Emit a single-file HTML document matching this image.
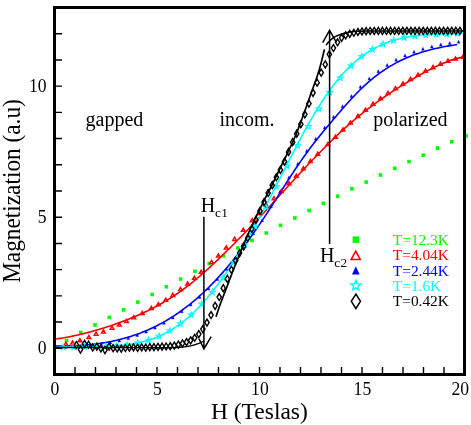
<!DOCTYPE html>
<html><head><meta charset="utf-8"><title>Magnetization</title><style>
html,body{margin:0;padding:0;background:#fff;}
#c{position:relative;will-change:transform;width:471px;height:425px;overflow:hidden;background:#fff;font-family:"Liberation Serif",serif;color:#000;}
.t{position:absolute;white-space:nowrap;line-height:1;}
</style></head><body><div id="c">
<svg width="471" height="425" viewBox="0 0 471 425" style="position:absolute;left:0;top:0">
<defs><clipPath id="cp"><rect x="53" y="6" width="415" height="370"/></clipPath></defs>
<g clip-path="url(#cp)">
<rect x="64.7" y="338.7" width="3.6" height="3.6" fill="#00ff00"/>
<rect x="78.97" y="330.7" width="3.6" height="3.6" fill="#00ff00"/>
<rect x="93.24" y="323.1" width="3.6" height="3.6" fill="#00ff00"/>
<rect x="107.51" y="315.6" width="3.6" height="3.6" fill="#00ff00"/>
<rect x="121.78" y="308.1" width="3.6" height="3.6" fill="#00ff00"/>
<rect x="136.05" y="300.3" width="3.6" height="3.6" fill="#00ff00"/>
<rect x="150.32" y="292.6" width="3.6" height="3.6" fill="#00ff00"/>
<rect x="164.59" y="285" width="3.6" height="3.6" fill="#00ff00"/>
<rect x="178.86" y="277.2" width="3.6" height="3.6" fill="#00ff00"/>
<rect x="193.13" y="269.5" width="3.6" height="3.6" fill="#00ff00"/>
<rect x="207.4" y="261.7" width="3.6" height="3.6" fill="#00ff00"/>
<rect x="221.67" y="254" width="3.6" height="3.6" fill="#00ff00"/>
<rect x="235.94" y="246.2" width="3.6" height="3.6" fill="#00ff00"/>
<rect x="250.21" y="238.7" width="3.6" height="3.6" fill="#00ff00"/>
<rect x="264.48" y="231.2" width="3.6" height="3.6" fill="#00ff00"/>
<rect x="278.75" y="223.5" width="3.6" height="3.6" fill="#00ff00"/>
<rect x="293.02" y="216.2" width="3.6" height="3.6" fill="#00ff00"/>
<rect x="307.29" y="208.7" width="3.6" height="3.6" fill="#00ff00"/>
<rect x="321.56" y="201.5" width="3.6" height="3.6" fill="#00ff00"/>
<rect x="335.83" y="194.4" width="3.6" height="3.6" fill="#00ff00"/>
<rect x="350.1" y="187" width="3.6" height="3.6" fill="#00ff00"/>
<rect x="364.37" y="180.3" width="3.6" height="3.6" fill="#00ff00"/>
<rect x="378.64" y="173.2" width="3.6" height="3.6" fill="#00ff00"/>
<rect x="392.91" y="166.5" width="3.6" height="3.6" fill="#00ff00"/>
<rect x="407.18" y="159.8" width="3.6" height="3.6" fill="#00ff00"/>
<rect x="421.45" y="153.4" width="3.6" height="3.6" fill="#00ff00"/>
<rect x="435.72" y="146.3" width="3.6" height="3.6" fill="#00ff00"/>
<rect x="449.99" y="139.9" width="3.6" height="3.6" fill="#00ff00"/>
<rect x="464.26" y="134.1" width="3.6" height="3.6" fill="#00ff00"/>
<path d="M54.5 339.19 L55.87 339 L57.24 338.8 L58.61 338.6 L59.98 338.39 L61.36 338.17 L62.73 337.94 L64.1 337.71 L65.47 337.47 L66.84 337.22 L68.21 336.96 L69.58 336.7 L70.95 336.43 L72.33 336.15 L73.7 335.86 L75.07 335.57 L76.44 335.27 L77.81 334.97 L79.18 334.66 L80.55 334.34 L81.92 334.01 L83.3 333.68 L84.67 333.34 L86.04 332.99 L87.41 332.64 L88.78 332.28 L90.15 331.91 L91.52 331.54 L92.89 331.16 L94.27 330.78 L95.64 330.39 L97.01 329.99 L98.38 329.59 L99.75 329.18 L101.12 328.76 L102.49 328.34 L103.86 327.91 L105.24 327.47 L106.61 327.03 L107.98 326.59 L109.35 326.14 L110.72 325.68 L112.09 325.21 L113.46 324.74 L114.83 324.27 L116.21 323.79 L117.58 323.3 L118.95 322.81 L120.32 322.31 L121.69 321.81 L123.06 321.3 L124.43 320.78 L125.8 320.25 L127.18 319.72 L128.55 319.18 L129.92 318.63 L131.29 318.08 L132.66 317.52 L134.03 316.95 L135.4 316.37 L136.77 315.78 L138.15 315.19 L139.52 314.58 L140.89 313.97 L142.26 313.34 L143.63 312.71 L145 312.07 L146.37 311.41 L147.74 310.75 L149.12 310.08 L150.49 309.39 L151.86 308.7 L153.23 307.99 L154.6 307.27 L155.97 306.55 L157.34 305.81 L158.71 305.05 L160.09 304.29 L161.46 303.51 L162.83 302.72 L164.2 301.92 L165.57 301.11 L166.94 300.28 L168.31 299.44 L169.68 298.59 L171.06 297.72 L172.43 296.84 L173.8 295.94 L175.17 295.03 L176.54 294.11 L177.91 293.17 L179.28 292.21 L180.65 291.24 L182.03 290.26 L183.4 289.26 L184.77 288.24 L186.14 287.21 L187.51 286.16 L188.88 285.1 L190.25 284.02 L191.62 282.93 L192.99 281.82 L194.37 280.7 L195.74 279.57 L197.11 278.42 L198.48 277.26 L199.85 276.09 L201.22 274.9 L202.59 273.71 L203.96 272.5 L205.34 271.28 L206.71 270.05 L208.08 268.81 L209.45 267.56 L210.82 266.3 L212.19 265.03 L213.56 263.75 L214.93 262.46 L216.31 261.16 L217.68 259.86 L219.05 258.55 L220.42 257.23 L221.79 255.9 L223.16 254.57 L224.53 253.23 L225.9 251.89 L227.28 250.54 L228.65 249.18 L230.02 247.82 L231.39 246.45 L232.76 245.08 L234.13 243.71 L235.5 242.33 L236.87 240.95 L238.25 239.56 L239.62 238.17 L240.99 236.77 L242.36 235.37 L243.73 233.97 L245.1 232.56 L246.47 231.14 L247.84 229.73 L249.22 228.3 L250.59 226.87 L251.96 225.44 L253.33 224 L254.7 222.55 L256.07 221.11 L257.44 219.65 L258.81 218.19 L260.19 216.72 L261.56 215.25 L262.93 213.78 L264.3 212.29 L265.67 210.81 L267.04 209.31 L268.41 207.82 L269.78 206.32 L271.16 204.82 L272.53 203.31 L273.9 201.8 L275.27 200.29 L276.64 198.78 L278.01 197.27 L279.38 195.76 L280.75 194.25 L282.13 192.74 L283.5 191.24 L284.87 189.73 L286.24 188.22 L287.61 186.72 L288.98 185.22 L290.35 183.72 L291.72 182.22 L293.1 180.73 L294.47 179.24 L295.84 177.75 L297.21 176.26 L298.58 174.78 L299.95 173.3 L301.32 171.83 L302.69 170.35 L304.07 168.89 L305.44 167.43 L306.81 165.97 L308.18 164.52 L309.55 163.07 L310.92 161.63 L312.29 160.19 L313.66 158.76 L315.04 157.33 L316.41 155.91 L317.78 154.5 L319.15 153.09 L320.52 151.69 L321.89 150.3 L323.26 148.92 L324.63 147.54 L326.01 146.17 L327.38 144.8 L328.75 143.45 L330.12 142.1 L331.49 140.76 L332.86 139.43 L334.23 138.11 L335.6 136.8 L336.97 135.49 L338.35 134.2 L339.72 132.92 L341.09 131.64 L342.46 130.38 L343.83 129.12 L345.2 127.88 L346.57 126.65 L347.94 125.42 L349.32 124.21 L350.69 123.01 L352.06 121.82 L353.43 120.65 L354.8 119.48 L356.17 118.33 L357.54 117.19 L358.91 116.06 L360.29 114.94 L361.66 113.83 L363.03 112.73 L364.4 111.64 L365.77 110.57 L367.14 109.5 L368.51 108.44 L369.88 107.4 L371.26 106.36 L372.63 105.34 L374 104.32 L375.37 103.31 L376.74 102.32 L378.11 101.33 L379.48 100.35 L380.85 99.38 L382.23 98.42 L383.6 97.47 L384.97 96.53 L386.34 95.59 L387.71 94.67 L389.08 93.75 L390.45 92.84 L391.82 91.94 L393.2 91.04 L394.57 90.16 L395.94 89.28 L397.31 88.4 L398.68 87.54 L400.05 86.68 L401.42 85.83 L402.79 84.99 L404.17 84.15 L405.54 83.32 L406.91 82.49 L408.28 81.68 L409.65 80.86 L411.02 80.06 L412.39 79.26 L413.76 78.46 L415.14 77.67 L416.51 76.89 L417.88 76.11 L419.25 75.34 L420.62 74.57 L421.99 73.8 L423.36 73.05 L424.73 72.3 L426.11 71.56 L427.48 70.83 L428.85 70.1 L430.22 69.39 L431.59 68.69 L432.96 68 L434.33 67.32 L435.7 66.65 L437.08 66 L438.45 65.36 L439.82 64.73 L441.19 64.12 L442.56 63.53 L443.93 62.95 L445.3 62.39 L446.67 61.85 L448.05 61.33 L449.42 60.82 L450.79 60.34 L452.16 59.87 L453.53 59.43 L454.9 59.01 L456.27 58.61 L457.64 58.23 L459.02 57.88 L460.39 57.55 L461.76 57.25 L463.13 56.98 L464.5 56.73" fill="none" stroke="#ff0000" stroke-width="1.6" />
<path d="M54.5 345.96 L55.85 345.98 L57.19 345.98 L58.54 345.99 L59.89 345.99 L61.23 345.98 L62.58 345.97 L63.93 345.96 L65.27 345.94 L66.62 345.92 L67.97 345.89 L69.32 345.85 L70.66 345.81 L72.01 345.77 L73.36 345.72 L74.7 345.66 L76.05 345.6 L77.4 345.53 L78.74 345.46 L80.09 345.38 L81.44 345.29 L82.78 345.19 L84.13 345.09 L85.48 344.99 L86.82 344.87 L88.17 344.75 L89.52 344.62 L90.86 344.48 L92.21 344.34 L93.56 344.19 L94.9 344.03 L96.25 343.86 L97.6 343.68 L98.95 343.5 L100.29 343.31 L101.64 343.1 L102.99 342.89 L104.33 342.67 L105.68 342.45 L107.03 342.21 L108.37 341.96 L109.72 341.71 L111.07 341.44 L112.41 341.17 L113.76 340.88 L115.11 340.58 L116.45 340.28 L117.8 339.96 L119.15 339.64 L120.49 339.3 L121.84 338.95 L123.19 338.6 L124.53 338.23 L125.88 337.85 L127.23 337.46 L128.58 337.05 L129.92 336.64 L131.27 336.21 L132.62 335.77 L133.96 335.32 L135.31 334.86 L136.66 334.39 L138 333.9 L139.35 333.4 L140.7 332.89 L142.04 332.37 L143.39 331.83 L144.74 331.28 L146.08 330.71 L147.43 330.14 L148.78 329.55 L150.12 328.94 L151.47 328.32 L152.82 327.69 L154.16 327.04 L155.51 326.38 L156.86 325.71 L158.21 325.02 L159.55 324.32 L160.9 323.6 L162.25 322.86 L163.59 322.12 L164.94 321.35 L166.29 320.57 L167.63 319.78 L168.98 318.97 L170.33 318.14 L171.67 317.3 L173.02 316.44 L174.37 315.57 L175.71 314.68 L177.06 313.77 L178.41 312.85 L179.75 311.91 L181.1 310.95 L182.45 309.98 L183.79 308.98 L185.14 307.98 L186.49 306.95 L187.84 305.91 L189.18 304.84 L190.53 303.76 L191.88 302.67 L193.22 301.55 L194.57 300.42 L195.92 299.27 L197.26 298.1 L198.61 296.91 L199.96 295.7 L201.3 294.47 L202.65 293.23 L204 291.96 L205.34 290.68 L206.69 289.38 L208.04 288.06 L209.38 286.72 L210.73 285.37 L212.08 284 L213.43 282.6 L214.77 281.19 L216.12 279.76 L217.47 278.32 L218.81 276.85 L220.16 275.37 L221.51 273.87 L222.85 272.35 L224.2 270.81 L225.55 269.26 L226.89 267.69 L228.24 266.1 L229.59 264.49 L230.93 262.86 L232.28 261.22 L233.63 259.56 L234.97 257.88 L236.32 256.18 L237.67 254.47 L239.01 252.74 L240.36 250.99 L241.71 249.22 L243.06 247.44 L244.4 245.64 L245.75 243.83 L247.1 242 L248.44 240.15 L249.79 238.29 L251.14 236.41 L252.48 234.52 L253.83 232.62 L255.18 230.7 L256.52 228.76 L257.87 226.81 L259.22 224.85 L260.56 222.87 L261.91 220.88 L263.26 218.88 L264.6 216.86 L265.95 214.84 L267.3 212.79 L268.64 210.74 L269.99 208.68 L271.34 206.6 L272.69 204.51 L274.03 202.41 L275.38 200.3 L276.73 198.18 L278.07 196.05 L279.42 193.91 L280.77 191.78 L282.11 189.64 L283.46 187.5 L284.81 185.38 L286.15 183.25 L287.5 181.14 L288.85 179.04 L290.19 176.96 L291.54 174.9 L292.89 172.85 L294.23 170.81 L295.58 168.8 L296.93 166.8 L298.27 164.82 L299.62 162.86 L300.97 160.91 L302.32 158.99 L303.66 157.08 L305.01 155.19 L306.36 153.33 L307.7 151.48 L309.05 149.65 L310.4 147.85 L311.74 146.06 L313.09 144.29 L314.44 142.55 L315.78 140.83 L317.13 139.13 L318.48 137.44 L319.82 135.77 L321.17 134.12 L322.52 132.48 L323.86 130.85 L325.21 129.23 L326.56 127.61 L327.91 126 L329.25 124.4 L330.6 122.79 L331.95 121.19 L333.29 119.59 L334.64 118 L335.99 116.41 L337.33 114.83 L338.68 113.25 L340.03 111.68 L341.37 110.12 L342.72 108.56 L344.07 107.02 L345.41 105.49 L346.76 103.98 L348.11 102.47 L349.45 100.98 L350.8 99.51 L352.15 98.05 L353.49 96.61 L354.84 95.19 L356.19 93.79 L357.54 92.4 L358.88 91.04 L360.23 89.7 L361.58 88.39 L362.92 87.1 L364.27 85.83 L365.62 84.59 L366.96 83.37 L368.31 82.18 L369.66 81.02 L371 79.88 L372.35 78.77 L373.7 77.68 L375.04 76.62 L376.39 75.58 L377.74 74.56 L379.08 73.57 L380.43 72.6 L381.78 71.65 L383.12 70.72 L384.47 69.82 L385.82 68.94 L387.17 68.08 L388.51 67.24 L389.86 66.42 L391.21 65.62 L392.55 64.84 L393.9 64.08 L395.25 63.34 L396.59 62.62 L397.94 61.92 L399.29 61.23 L400.63 60.57 L401.98 59.92 L403.33 59.29 L404.67 58.68 L406.02 58.08 L407.37 57.5 L408.71 56.93 L410.06 56.39 L411.41 55.85 L412.75 55.33 L414.1 54.83 L415.45 54.34 L416.8 53.87 L418.14 53.41 L419.49 52.96 L420.84 52.52 L422.18 52.1 L423.53 51.69 L424.88 51.3 L426.22 50.91 L427.57 50.54 L428.92 50.18 L430.26 49.82 L431.61 49.48 L432.96 49.15 L434.3 48.83 L435.65 48.52 L437 48.22 L438.34 47.92 L439.69 47.64 L441.04 47.36 L442.38 47.09 L443.73 46.83 L445.08 46.58 L446.43 46.33 L447.77 46.09 L449.12 45.86 L450.47 45.63 L451.81 45.41 L453.16 45.19 L454.51 44.98 L455.85 44.77 L457.2 44.57" fill="none" stroke="#0000ff" stroke-width="1.6" />
<path d="M54.5 347.95 L55.87 347.82 L57.24 347.7 L58.61 347.59 L59.98 347.48 L61.36 347.39 L62.73 347.3 L64.1 347.23 L65.47 347.16 L66.84 347.1 L68.21 347.04 L69.58 346.99 L70.95 346.95 L72.33 346.91 L73.7 346.88 L75.07 346.85 L76.44 346.83 L77.81 346.81 L79.18 346.79 L80.55 346.78 L81.92 346.77 L83.3 346.76 L84.67 346.75 L86.04 346.75 L87.41 346.74 L88.78 346.74 L90.15 346.73 L91.52 346.72 L92.89 346.72 L94.27 346.71 L95.64 346.7 L97.01 346.68 L98.38 346.66 L99.75 346.64 L101.12 346.62 L102.49 346.59 L103.86 346.56 L105.24 346.52 L106.61 346.48 L107.98 346.43 L109.35 346.37 L110.72 346.31 L112.09 346.24 L113.46 346.16 L114.83 346.08 L116.21 345.98 L117.58 345.88 L118.95 345.76 L120.32 345.64 L121.69 345.5 L123.06 345.36 L124.43 345.2 L125.8 345.03 L127.18 344.85 L128.55 344.66 L129.92 344.45 L131.29 344.23 L132.66 344 L134.03 343.75 L135.4 343.49 L136.77 343.21 L138.15 342.92 L139.52 342.61 L140.89 342.28 L142.26 341.93 L143.63 341.57 L145 341.19 L146.37 340.79 L147.74 340.38 L149.12 339.94 L150.49 339.48 L151.86 339.01 L153.23 338.51 L154.6 337.99 L155.97 337.45 L157.34 336.89 L158.71 336.3 L160.09 335.7 L161.46 335.07 L162.83 334.41 L164.2 333.73 L165.57 333.03 L166.94 332.3 L168.31 331.55 L169.68 330.77 L171.06 329.96 L172.43 329.13 L173.8 328.27 L175.17 327.38 L176.54 326.46 L177.91 325.52 L179.28 324.54 L180.65 323.54 L182.03 322.5 L183.4 321.44 L184.77 320.35 L186.14 319.22 L187.51 318.06 L188.88 316.87 L190.25 315.65 L191.62 314.39 L192.99 313.1 L194.37 311.78 L195.74 310.43 L197.11 309.04 L198.48 307.63 L199.85 306.18 L201.22 304.7 L202.59 303.19 L203.96 301.66 L205.34 300.09 L206.71 298.49 L208.08 296.86 L209.45 295.21 L210.82 293.52 L212.19 291.81 L213.56 290.07 L214.93 288.3 L216.31 286.5 L217.68 284.67 L219.05 282.82 L220.42 280.95 L221.79 279.04 L223.16 277.11 L224.53 275.16 L225.9 273.18 L227.28 271.17 L228.65 269.14 L230.02 267.08 L231.39 265.01 L232.76 262.9 L234.13 260.77 L235.5 258.62 L236.87 256.45 L238.25 254.26 L239.62 252.04 L240.99 249.8 L242.36 247.54 L243.73 245.25 L245.1 242.95 L246.47 240.62 L247.84 238.28 L249.22 235.91 L250.59 233.52 L251.96 231.12 L253.33 228.69 L254.7 226.25 L256.07 223.78 L257.44 221.3 L258.81 218.8 L260.19 216.28 L261.56 213.75 L262.93 211.2 L264.3 208.63 L265.67 206.04 L267.04 203.44 L268.41 200.82 L269.78 198.18 L271.16 195.54 L272.53 192.88 L273.9 190.21 L275.27 187.54 L276.64 184.85 L278.01 182.16 L279.38 179.47 L280.75 176.77 L282.13 174.07 L283.5 171.38 L284.87 168.68 L286.24 165.99 L287.61 163.3 L288.98 160.62 L290.35 157.94 L291.72 155.28 L293.1 152.62 L294.47 149.98 L295.84 147.35 L297.21 144.73 L298.58 142.13 L299.95 139.55 L301.32 136.99 L302.69 134.45 L304.07 131.93 L305.44 129.43 L306.81 126.96 L308.18 124.52 L309.55 122.1 L310.92 119.72 L312.29 117.36 L313.66 115.04 L315.04 112.75 L316.41 110.49 L317.78 108.26 L319.15 106.07 L320.52 103.9 L321.89 101.78 L323.26 99.69 L324.63 97.63 L326.01 95.61 L327.38 93.62 L328.75 91.68 L330.12 89.76 L331.49 87.89 L332.86 86.05 L334.23 84.26 L335.6 82.5 L336.97 80.78 L338.35 79.1 L339.72 77.46 L341.09 75.86 L342.46 74.31 L343.83 72.79 L345.2 71.31 L346.57 69.87 L347.94 68.48 L349.32 67.12 L350.69 65.79 L352.06 64.51 L353.43 63.26 L354.8 62.05 L356.17 60.87 L357.54 59.73 L358.91 58.62 L360.29 57.54 L361.66 56.5 L363.03 55.49 L364.4 54.52 L365.77 53.57 L367.14 52.66 L368.51 51.78 L369.88 50.93 L371.26 50.1 L372.63 49.31 L374 48.54 L375.37 47.8 L376.74 47.09 L378.11 46.41 L379.48 45.75 L380.85 45.11 L382.23 44.51 L383.6 43.92 L384.97 43.36 L386.34 42.83 L387.71 42.31 L389.08 41.82 L390.45 41.35 L391.82 40.9 L393.2 40.48 L394.57 40.07 L395.94 39.68 L397.31 39.31 L398.68 38.96 L400.05 38.63 L401.42 38.31 L402.79 38.01 L404.17 37.73 L405.54 37.46 L406.91 37.21 L408.28 36.97 L409.65 36.75 L411.02 36.53 L412.39 36.34 L413.76 36.15 L415.14 35.98 L416.51 35.82 L417.88 35.66 L419.25 35.52 L420.62 35.39 L421.99 35.27 L423.36 35.15 L424.73 35.04 L426.11 34.94 L427.48 34.85 L428.85 34.77 L430.22 34.68 L431.59 34.61 L432.96 34.54 L434.33 34.47 L435.7 34.41 L437.08 34.35 L438.45 34.29 L439.82 34.23 L441.19 34.18 L442.56 34.12 L443.93 34.07 L445.3 34.01 L446.67 33.96 L448.05 33.9 L449.42 33.84 L450.79 33.78 L452.16 33.71 L453.53 33.64 L454.9 33.57 L456.27 33.49 L457.64 33.41 L459.02 33.32 L460.39 33.22 L461.76 33.12 L463.13 33.01 L464.5 32.89" fill="none" stroke="#00ffff" stroke-width="1.6" />
<path d="M65.9 342.21 L64 345.41 L67.8 345.41Z" fill="none" stroke="#ff0000" stroke-width="1.4" stroke-linejoin="miter"/>
<path d="M72.6 340.97 L70.7 344.17 L74.5 344.17Z" fill="none" stroke="#ff0000" stroke-width="1.4" stroke-linejoin="miter"/>
<path d="M79.9 338.58 L78 341.78 L81.8 341.78Z" fill="none" stroke="#ff0000" stroke-width="1.4" stroke-linejoin="miter"/>
<path d="M88.9 335.34 L87 338.54 L90.8 338.54Z" fill="none" stroke="#ff0000" stroke-width="1.4" stroke-linejoin="miter"/>
<path d="M96.1 332.13 L94.2 335.33 L98 335.33Z" fill="none" stroke="#ff0000" stroke-width="1.4" stroke-linejoin="miter"/>
<path d="M103.4 329.93 L101.5 333.13 L105.3 333.13Z" fill="none" stroke="#ff0000" stroke-width="1.4" stroke-linejoin="miter"/>
<path d="M112 326.13 L110.1 329.33 L113.9 329.33Z" fill="none" stroke="#ff0000" stroke-width="1.4" stroke-linejoin="miter"/>
<path d="M119.3 322.96 L117.4 326.16 L121.2 326.16Z" fill="none" stroke="#ff0000" stroke-width="1.4" stroke-linejoin="miter"/>
<path d="M126.5 319.36 L124.6 322.56 L128.4 322.56Z" fill="none" stroke="#ff0000" stroke-width="1.4" stroke-linejoin="miter"/>
<path d="M133.8 315.72 L131.9 318.92 L135.7 318.92Z" fill="none" stroke="#ff0000" stroke-width="1.4" stroke-linejoin="miter"/>
<path d="M142.3 311.4 L140.4 314.6 L144.2 314.6Z" fill="none" stroke="#ff0000" stroke-width="1.4" stroke-linejoin="miter"/>
<path d="M151.3 306.46 L149.4 309.66 L153.2 309.66Z" fill="none" stroke="#ff0000" stroke-width="1.4" stroke-linejoin="miter"/>
<path d="M158.4 302.55 L156.5 305.75 L160.3 305.75Z" fill="none" stroke="#ff0000" stroke-width="1.4" stroke-linejoin="miter"/>
<path d="M165.7 298.18 L163.8 301.38 L167.6 301.38Z" fill="none" stroke="#ff0000" stroke-width="1.4" stroke-linejoin="miter"/>
<path d="M172.8 293.23 L170.9 296.43 L174.7 296.43Z" fill="none" stroke="#ff0000" stroke-width="1.4" stroke-linejoin="miter"/>
<path d="M180.5 287.36 L178.6 290.56 L182.4 290.56Z" fill="none" stroke="#ff0000" stroke-width="1.4" stroke-linejoin="miter"/>
<path d="M187.6 281.76 L185.7 284.96 L189.5 284.96Z" fill="none" stroke="#ff0000" stroke-width="1.4" stroke-linejoin="miter"/>
<path d="M194.4 276.08 L192.5 279.28 L196.3 279.28Z" fill="none" stroke="#ff0000" stroke-width="1.4" stroke-linejoin="miter"/>
<path d="M201.2 270.1 L199.3 273.3 L203.1 273.3Z" fill="none" stroke="#ff0000" stroke-width="1.4" stroke-linejoin="miter"/>
<path d="M211.6 260.41 L209.7 263.61 L213.5 263.61Z" fill="none" stroke="#ff0000" stroke-width="1.4" stroke-linejoin="miter"/>
<path d="M218.4 253.76 L216.5 256.96 L220.3 256.96Z" fill="none" stroke="#ff0000" stroke-width="1.4" stroke-linejoin="miter"/>
<path d="M226.2 245.89 L224.3 249.09 L228.1 249.09Z" fill="none" stroke="#ff0000" stroke-width="1.4" stroke-linejoin="miter"/>
<path d="M234.6 237.23 L232.7 240.43 L236.5 240.43Z" fill="none" stroke="#ff0000" stroke-width="1.4" stroke-linejoin="miter"/>
<path d="M243.3 228.08 L241.4 231.28 L245.2 231.28Z" fill="none" stroke="#ff0000" stroke-width="1.4" stroke-linejoin="miter"/>
<path d="M252.2 218.67 L250.3 221.87 L254.1 221.87Z" fill="none" stroke="#ff0000" stroke-width="1.4" stroke-linejoin="miter"/>
<path d="M259.4 211.29 L257.5 214.49 L261.3 214.49Z" fill="none" stroke="#ff0000" stroke-width="1.4" stroke-linejoin="miter"/>
<path d="M266.6 204.02 L264.7 207.22 L268.5 207.22Z" fill="none" stroke="#ff0000" stroke-width="1.4" stroke-linejoin="miter"/>
<path d="M274 196.52 L272.1 199.72 L275.9 199.72Z" fill="none" stroke="#ff0000" stroke-width="1.4" stroke-linejoin="miter"/>
<path d="M281.3 189.32 L279.4 192.52 L283.2 192.52Z" fill="none" stroke="#ff0000" stroke-width="1.4" stroke-linejoin="miter"/>
<path d="M289 181.62 L287.1 184.82 L290.9 184.82Z" fill="none" stroke="#ff0000" stroke-width="1.4" stroke-linejoin="miter"/>
<path d="M296.3 174.02 L294.4 177.22 L298.2 177.22Z" fill="none" stroke="#ff0000" stroke-width="1.4" stroke-linejoin="miter"/>
<path d="M303.4 166.63 L301.5 169.83 L305.3 169.83Z" fill="none" stroke="#ff0000" stroke-width="1.4" stroke-linejoin="miter"/>
<path d="M310.4 159.47 L308.5 162.67 L312.3 162.67Z" fill="none" stroke="#ff0000" stroke-width="1.4" stroke-linejoin="miter"/>
<path d="M317.8 152.18 L315.9 155.38 L319.7 155.38Z" fill="none" stroke="#ff0000" stroke-width="1.4" stroke-linejoin="miter"/>
<path d="M328 142.35 L326.1 145.55 L329.9 145.55Z" fill="none" stroke="#ff0000" stroke-width="1.4" stroke-linejoin="miter"/>
<path d="M335.5 135.03 L333.6 138.23 L337.4 138.23Z" fill="none" stroke="#ff0000" stroke-width="1.4" stroke-linejoin="miter"/>
<path d="M343 127.86 L341.1 131.06 L344.9 131.06Z" fill="none" stroke="#ff0000" stroke-width="1.4" stroke-linejoin="miter"/>
<path d="M350.5 120.93 L348.6 124.13 L352.4 124.13Z" fill="none" stroke="#ff0000" stroke-width="1.4" stroke-linejoin="miter"/>
<path d="M358 114.34 L356.1 117.54 L359.9 117.54Z" fill="none" stroke="#ff0000" stroke-width="1.4" stroke-linejoin="miter"/>
<path d="M365.5 108.09 L363.6 111.29 L367.4 111.29Z" fill="none" stroke="#ff0000" stroke-width="1.4" stroke-linejoin="miter"/>
<path d="M373 102.14 L371.1 105.34 L374.9 105.34Z" fill="none" stroke="#ff0000" stroke-width="1.4" stroke-linejoin="miter"/>
<path d="M380.5 96.61 L378.6 99.81 L382.4 99.81Z" fill="none" stroke="#ff0000" stroke-width="1.4" stroke-linejoin="miter"/>
<path d="M388 91.45 L386.1 94.65 L389.9 94.65Z" fill="none" stroke="#ff0000" stroke-width="1.4" stroke-linejoin="miter"/>
<path d="M395.5 86.54 L393.6 89.74 L397.4 89.74Z" fill="none" stroke="#ff0000" stroke-width="1.4" stroke-linejoin="miter"/>
<path d="M403 81.84 L401.1 85.04 L404.9 85.04Z" fill="none" stroke="#ff0000" stroke-width="1.4" stroke-linejoin="miter"/>
<path d="M410.5 77.34 L408.6 80.54 L412.4 80.54Z" fill="none" stroke="#ff0000" stroke-width="1.4" stroke-linejoin="miter"/>
<path d="M418 73.11 L416.1 76.31 L419.9 76.31Z" fill="none" stroke="#ff0000" stroke-width="1.4" stroke-linejoin="miter"/>
<path d="M425.5 69.16 L423.6 72.36 L427.4 72.36Z" fill="none" stroke="#ff0000" stroke-width="1.4" stroke-linejoin="miter"/>
<path d="M433 65.48 L431.1 68.68 L434.9 68.68Z" fill="none" stroke="#ff0000" stroke-width="1.4" stroke-linejoin="miter"/>
<path d="M440.5 62.12 L438.6 65.32 L442.4 65.32Z" fill="none" stroke="#ff0000" stroke-width="1.4" stroke-linejoin="miter"/>
<path d="M448 59.17 L446.1 62.37 L449.9 62.37Z" fill="none" stroke="#ff0000" stroke-width="1.4" stroke-linejoin="miter"/>
<path d="M455.5 56.79 L453.6 59.99 L457.4 59.99Z" fill="none" stroke="#ff0000" stroke-width="1.4" stroke-linejoin="miter"/>
<path d="M463 55.08 L461.1 58.28 L464.9 58.28Z" fill="none" stroke="#ff0000" stroke-width="1.4" stroke-linejoin="miter"/>
<path d="M65.7 345.33 L64.3 348.33 L67.1 348.33Z" fill="#0000ff" stroke="#0000ff" stroke-width="0.4" stroke-linejoin="miter"/>
<path d="M74.63 345.06 L73.23 348.06 L76.03 348.06Z" fill="#0000ff" stroke="#0000ff" stroke-width="0.4" stroke-linejoin="miter"/>
<path d="M83.56 344.54 L82.16 347.54 L84.96 347.54Z" fill="#0000ff" stroke="#0000ff" stroke-width="0.4" stroke-linejoin="miter"/>
<path d="M92.49 343.71 L91.09 346.71 L93.89 346.71Z" fill="#0000ff" stroke="#0000ff" stroke-width="0.4" stroke-linejoin="miter"/>
<path d="M101.42 342.54 L100.02 345.54 L102.82 345.54Z" fill="#0000ff" stroke="#0000ff" stroke-width="0.4" stroke-linejoin="miter"/>
<path d="M110.35 340.98 L108.95 343.98 L111.75 343.98Z" fill="#0000ff" stroke="#0000ff" stroke-width="0.4" stroke-linejoin="miter"/>
<path d="M119.28 339.01 L117.88 342.01 L120.68 342.01Z" fill="#0000ff" stroke="#0000ff" stroke-width="0.4" stroke-linejoin="miter"/>
<path d="M128.21 336.56 L126.81 339.56 L129.61 339.56Z" fill="#0000ff" stroke="#0000ff" stroke-width="0.4" stroke-linejoin="miter"/>
<path d="M137.14 333.61 L135.74 336.61 L138.54 336.61Z" fill="#0000ff" stroke="#0000ff" stroke-width="0.4" stroke-linejoin="miter"/>
<path d="M146.07 330.12 L144.67 333.12 L147.47 333.12Z" fill="#0000ff" stroke="#0000ff" stroke-width="0.4" stroke-linejoin="miter"/>
<path d="M155 326.04 L153.6 329.04 L156.4 329.04Z" fill="#0000ff" stroke="#0000ff" stroke-width="0.4" stroke-linejoin="miter"/>
<path d="M163.93 321.33 L162.53 324.33 L165.33 324.33Z" fill="#0000ff" stroke="#0000ff" stroke-width="0.4" stroke-linejoin="miter"/>
<path d="M172.86 315.94 L171.46 318.94 L174.26 318.94Z" fill="#0000ff" stroke="#0000ff" stroke-width="0.4" stroke-linejoin="miter"/>
<path d="M181.79 309.85 L180.39 312.85 L183.19 312.85Z" fill="#0000ff" stroke="#0000ff" stroke-width="0.4" stroke-linejoin="miter"/>
<path d="M190.72 303.01 L189.32 306.01 L192.12 306.01Z" fill="#0000ff" stroke="#0000ff" stroke-width="0.4" stroke-linejoin="miter"/>
<path d="M199.65 295.38 L198.25 298.38 L201.05 298.38Z" fill="#0000ff" stroke="#0000ff" stroke-width="0.4" stroke-linejoin="miter"/>
<path d="M208.58 286.89 L207.18 289.89 L209.98 289.89Z" fill="#0000ff" stroke="#0000ff" stroke-width="0.4" stroke-linejoin="miter"/>
<path d="M217.51 277.52 L216.11 280.52 L218.91 280.52Z" fill="#0000ff" stroke="#0000ff" stroke-width="0.4" stroke-linejoin="miter"/>
<path d="M226.44 267.3 L225.04 270.3 L227.84 270.3Z" fill="#0000ff" stroke="#0000ff" stroke-width="0.4" stroke-linejoin="miter"/>
<path d="M235.37 256.25 L233.97 259.25 L236.77 259.25Z" fill="#0000ff" stroke="#0000ff" stroke-width="0.4" stroke-linejoin="miter"/>
<path d="M244.3 244.41 L242.9 247.41 L245.7 247.41Z" fill="#0000ff" stroke="#0000ff" stroke-width="0.4" stroke-linejoin="miter"/>
<path d="M253.23 231.85 L251.83 234.85 L254.63 234.85Z" fill="#0000ff" stroke="#0000ff" stroke-width="0.4" stroke-linejoin="miter"/>
<path d="M262.16 218.65 L260.76 221.65 L263.56 221.65Z" fill="#0000ff" stroke="#0000ff" stroke-width="0.4" stroke-linejoin="miter"/>
<path d="M271.09 204.8 L269.69 207.8 L272.49 207.8Z" fill="#0000ff" stroke="#0000ff" stroke-width="0.4" stroke-linejoin="miter"/>
<path d="M280.02 190.4 L278.62 193.4 L281.42 193.4Z" fill="#0000ff" stroke="#0000ff" stroke-width="0.4" stroke-linejoin="miter"/>
<path d="M288.95 175.95 L287.55 178.95 L290.35 178.95Z" fill="#0000ff" stroke="#0000ff" stroke-width="0.4" stroke-linejoin="miter"/>
<path d="M297.88 162.15 L296.48 165.15 L299.28 165.15Z" fill="#0000ff" stroke="#0000ff" stroke-width="0.4" stroke-linejoin="miter"/>
<path d="M306.81 149.24 L305.41 152.24 L308.21 152.24Z" fill="#0000ff" stroke="#0000ff" stroke-width="0.4" stroke-linejoin="miter"/>
<path d="M315.74 137.23 L314.34 140.23 L317.14 140.23Z" fill="#0000ff" stroke="#0000ff" stroke-width="0.4" stroke-linejoin="miter"/>
<path d="M324.67 126.05 L323.27 129.05 L326.07 129.05Z" fill="#0000ff" stroke="#0000ff" stroke-width="0.4" stroke-linejoin="miter"/>
<path d="M333.6 115.25 L332.2 118.25 L335 118.25Z" fill="#0000ff" stroke="#0000ff" stroke-width="0.4" stroke-linejoin="miter"/>
<path d="M342.53 104.67 L341.13 107.67 L343.93 107.67Z" fill="#0000ff" stroke="#0000ff" stroke-width="0.4" stroke-linejoin="miter"/>
<path d="M351.46 94.58 L350.06 97.58 L352.86 97.58Z" fill="#0000ff" stroke="#0000ff" stroke-width="0.4" stroke-linejoin="miter"/>
<path d="M360.39 85.23 L358.99 88.23 L361.79 88.23Z" fill="#0000ff" stroke="#0000ff" stroke-width="0.4" stroke-linejoin="miter"/>
<path d="M369.32 76.9 L367.92 79.9 L370.72 79.9Z" fill="#0000ff" stroke="#0000ff" stroke-width="0.4" stroke-linejoin="miter"/>
<path d="M378.25 69.68 L376.85 72.68 L379.65 72.68Z" fill="#0000ff" stroke="#0000ff" stroke-width="0.4" stroke-linejoin="miter"/>
<path d="M387.18 63.5 L385.78 66.5 L388.58 66.5Z" fill="#0000ff" stroke="#0000ff" stroke-width="0.4" stroke-linejoin="miter"/>
<path d="M396.11 58.28 L394.71 61.28 L397.51 61.28Z" fill="#0000ff" stroke="#0000ff" stroke-width="0.4" stroke-linejoin="miter"/>
<path d="M405.04 53.91 L403.64 56.91 L406.44 56.91Z" fill="#0000ff" stroke="#0000ff" stroke-width="0.4" stroke-linejoin="miter"/>
<path d="M413.97 50.3 L412.57 53.3 L415.37 53.3Z" fill="#0000ff" stroke="#0000ff" stroke-width="0.4" stroke-linejoin="miter"/>
<path d="M422.9 47.34 L421.5 50.34 L424.3 50.34Z" fill="#0000ff" stroke="#0000ff" stroke-width="0.4" stroke-linejoin="miter"/>
<path d="M431.83 44.94 L430.43 47.94 L433.23 47.94Z" fill="#0000ff" stroke="#0000ff" stroke-width="0.4" stroke-linejoin="miter"/>
<path d="M440.76 43.01 L439.36 46.01 L442.16 46.01Z" fill="#0000ff" stroke="#0000ff" stroke-width="0.4" stroke-linejoin="miter"/>
<path d="M449.69 41.45 L448.29 44.45 L451.09 44.45Z" fill="#0000ff" stroke="#0000ff" stroke-width="0.4" stroke-linejoin="miter"/>
<path d="M458.62 40.21 L457.22 43.21 L460.02 43.21Z" fill="#0000ff" stroke="#0000ff" stroke-width="0.4" stroke-linejoin="miter"/>
<path d="M464.3 39.61 L462.9 42.61 L465.7 42.61Z" fill="#0000ff" stroke="#0000ff" stroke-width="0.4" stroke-linejoin="miter"/>
<path d="M63.2 344.38 L63.96 346.22 L65.96 346.38 L64.44 347.68 L64.9 349.62 L63.2 348.58 L61.5 349.62 L61.96 347.68 L60.44 346.38 L62.44 346.22Z" fill="none" stroke="#00ffff" stroke-width="1.15" stroke-linejoin="miter"/>
<path d="M73.86 343.98 L74.62 345.83 L76.62 345.98 L75.1 347.28 L75.56 349.22 L73.86 348.18 L72.16 349.22 L72.62 347.28 L71.1 345.98 L73.1 345.83Z" fill="none" stroke="#00ffff" stroke-width="1.15" stroke-linejoin="miter"/>
<path d="M84.52 343.85 L85.28 345.7 L87.28 345.86 L85.76 347.16 L86.22 349.1 L84.52 348.05 L82.82 349.1 L83.28 347.16 L81.76 345.86 L83.76 345.7Z" fill="none" stroke="#00ffff" stroke-width="1.15" stroke-linejoin="miter"/>
<path d="M95.18 343.8 L95.94 345.65 L97.94 345.8 L96.42 347.1 L96.88 349.05 L95.18 348 L93.48 349.05 L93.94 347.1 L92.42 345.8 L94.42 345.65Z" fill="none" stroke="#00ffff" stroke-width="1.15" stroke-linejoin="miter"/>
<path d="M105.84 343.6 L106.6 345.45 L108.6 345.61 L107.08 346.91 L107.54 348.85 L105.84 347.8 L104.14 348.85 L104.6 346.91 L103.08 345.61 L105.08 345.45Z" fill="none" stroke="#00ffff" stroke-width="1.15" stroke-linejoin="miter"/>
<path d="M116.5 343.06 L117.26 344.91 L119.26 345.06 L117.74 346.36 L118.2 348.3 L116.5 347.26 L114.8 348.3 L115.26 346.36 L113.74 345.06 L115.74 344.91Z" fill="none" stroke="#00ffff" stroke-width="1.15" stroke-linejoin="miter"/>
<path d="M127.16 341.96 L127.92 343.8 L129.92 343.96 L128.4 345.26 L128.86 347.2 L127.16 346.16 L125.46 347.2 L125.92 345.26 L124.4 343.96 L126.4 343.8Z" fill="none" stroke="#00ffff" stroke-width="1.15" stroke-linejoin="miter"/>
<path d="M137.82 340.09 L138.58 341.94 L140.58 342.09 L139.06 343.39 L139.52 345.33 L137.82 344.29 L136.12 345.33 L136.58 343.39 L135.06 342.09 L137.06 341.94Z" fill="none" stroke="#00ffff" stroke-width="1.15" stroke-linejoin="miter"/>
<path d="M148.48 337.24 L149.24 339.09 L151.24 339.25 L149.72 340.55 L150.18 342.49 L148.48 341.44 L146.78 342.49 L147.24 340.55 L145.72 339.25 L147.72 339.09Z" fill="none" stroke="#00ffff" stroke-width="1.15" stroke-linejoin="miter"/>
<path d="M159.14 333.22 L159.9 335.07 L161.9 335.22 L160.38 336.52 L160.84 338.46 L159.14 337.42 L157.44 338.46 L157.9 336.52 L156.38 335.22 L158.38 335.07Z" fill="none" stroke="#00ffff" stroke-width="1.15" stroke-linejoin="miter"/>
<path d="M169.8 327.8 L170.56 329.65 L172.56 329.8 L171.04 331.1 L171.5 333.05 L169.8 332 L168.1 333.05 L168.56 331.1 L167.04 329.8 L169.04 329.65Z" fill="none" stroke="#00ffff" stroke-width="1.15" stroke-linejoin="miter"/>
<path d="M180.46 320.78 L181.22 322.63 L183.22 322.79 L181.7 324.08 L182.16 326.03 L180.46 324.98 L178.76 326.03 L179.22 324.08 L177.7 322.79 L179.7 322.63Z" fill="none" stroke="#00ffff" stroke-width="1.15" stroke-linejoin="miter"/>
<path d="M191.12 311.96 L191.88 313.8 L193.88 313.96 L192.36 315.26 L192.82 317.2 L191.12 316.16 L189.42 317.2 L189.88 315.26 L188.36 313.96 L190.36 313.8Z" fill="none" stroke="#00ffff" stroke-width="1.15" stroke-linejoin="miter"/>
<path d="M201.78 301.22 L202.54 303.07 L204.54 303.23 L203.02 304.53 L203.48 306.47 L201.78 305.42 L200.08 306.47 L200.54 304.53 L199.02 303.23 L201.02 303.07Z" fill="none" stroke="#00ffff" stroke-width="1.15" stroke-linejoin="miter"/>
<path d="M212.44 289.33 L213.2 291.18 L215.2 291.34 L213.68 292.63 L214.14 294.58 L212.44 293.53 L210.74 294.58 L211.2 292.63 L209.68 291.34 L211.68 291.18Z" fill="none" stroke="#00ffff" stroke-width="1.15" stroke-linejoin="miter"/>
<path d="M223.1 275.1 L223.86 276.95 L225.86 277.1 L224.34 278.4 L224.8 280.35 L223.1 279.3 L221.4 280.35 L221.86 278.4 L220.34 277.1 L222.34 276.95Z" fill="none" stroke="#00ffff" stroke-width="1.15" stroke-linejoin="miter"/>
<path d="M233.76 259.25 L234.52 261.1 L236.52 261.26 L235 262.56 L235.46 264.5 L233.76 263.45 L232.06 264.5 L232.52 262.56 L231 261.26 L233 261.1Z" fill="none" stroke="#00ffff" stroke-width="1.15" stroke-linejoin="miter"/>
<path d="M244.42 242 L245.18 243.84 L247.18 244 L245.66 245.3 L246.12 247.24 L244.42 246.2 L242.72 247.24 L243.18 245.3 L241.66 244 L243.66 243.84Z" fill="none" stroke="#00ffff" stroke-width="1.15" stroke-linejoin="miter"/>
<path d="M255.08 223.47 L255.84 225.31 L257.84 225.47 L256.32 226.77 L256.78 228.71 L255.08 227.67 L253.38 228.71 L253.84 226.77 L252.32 225.47 L254.32 225.31Z" fill="none" stroke="#00ffff" stroke-width="1.15" stroke-linejoin="miter"/>
<path d="M265.74 203.86 L266.5 205.71 L268.5 205.87 L266.98 207.16 L267.44 209.11 L265.74 208.06 L264.04 209.11 L264.5 207.16 L262.98 205.87 L264.98 205.71Z" fill="none" stroke="#00ffff" stroke-width="1.15" stroke-linejoin="miter"/>
<path d="M276.4 183.58 L277.16 185.42 L279.16 185.58 L277.64 186.88 L278.1 188.82 L276.4 187.78 L274.7 188.82 L275.16 186.88 L273.64 185.58 L275.64 185.42Z" fill="none" stroke="#00ffff" stroke-width="1.15" stroke-linejoin="miter"/>
<path d="M287.06 162.98 L287.82 164.83 L289.82 164.98 L288.3 166.28 L288.76 168.23 L287.06 167.18 L285.36 168.23 L285.82 166.28 L284.3 164.98 L286.3 164.83Z" fill="none" stroke="#00ffff" stroke-width="1.15" stroke-linejoin="miter"/>
<path d="M297.72 142.74 L298.48 144.59 L300.48 144.75 L298.96 146.05 L299.42 147.99 L297.72 146.94 L296.02 147.99 L296.48 146.05 L294.96 144.75 L296.96 144.59Z" fill="none" stroke="#00ffff" stroke-width="1.15" stroke-linejoin="miter"/>
<path d="M308.38 123.55 L309.14 125.4 L311.14 125.56 L309.62 126.85 L310.08 128.8 L308.38 127.75 L306.68 128.8 L307.14 126.85 L305.62 125.56 L307.62 125.4Z" fill="none" stroke="#00ffff" stroke-width="1.15" stroke-linejoin="miter"/>
<path d="M319.04 105.84 L319.8 107.68 L321.8 107.84 L320.28 109.14 L320.74 111.08 L319.04 110.04 L317.34 111.08 L317.8 109.14 L316.28 107.84 L318.28 107.68Z" fill="none" stroke="#00ffff" stroke-width="1.15" stroke-linejoin="miter"/>
<path d="M329.7 89.47 L330.46 91.32 L332.46 91.48 L330.94 92.78 L331.4 94.72 L329.7 93.67 L328 94.72 L328.46 92.78 L326.94 91.48 L328.94 91.32Z" fill="none" stroke="#00ffff" stroke-width="1.15" stroke-linejoin="miter"/>
<path d="M340.36 74.98 L341.12 76.83 L343.12 76.99 L341.6 78.29 L342.06 80.23 L340.36 79.18 L338.66 80.23 L339.12 78.29 L337.6 76.99 L339.6 76.83Z" fill="none" stroke="#00ffff" stroke-width="1.15" stroke-linejoin="miter"/>
<path d="M351.02 62.95 L351.78 64.8 L353.78 64.95 L352.26 66.25 L352.72 68.19 L351.02 67.15 L349.32 68.19 L349.78 66.25 L348.26 64.95 L350.26 64.8Z" fill="none" stroke="#00ffff" stroke-width="1.15" stroke-linejoin="miter"/>
<path d="M361.68 53.59 L362.44 55.43 L364.44 55.59 L362.92 56.89 L363.38 58.83 L361.68 57.79 L359.98 58.83 L360.44 56.89 L358.92 55.59 L360.92 55.43Z" fill="none" stroke="#00ffff" stroke-width="1.15" stroke-linejoin="miter"/>
<path d="M372.34 46.57 L373.1 48.42 L375.1 48.58 L373.58 49.87 L374.04 51.82 L372.34 50.77 L370.64 51.82 L371.1 49.87 L369.58 48.58 L371.58 48.42Z" fill="none" stroke="#00ffff" stroke-width="1.15" stroke-linejoin="miter"/>
<path d="M383 41.27 L383.76 43.12 L385.76 43.28 L384.24 44.58 L384.7 46.52 L383 45.47 L381.3 46.52 L381.76 44.58 L380.24 43.28 L382.24 43.12Z" fill="none" stroke="#00ffff" stroke-width="1.15" stroke-linejoin="miter"/>
<path d="M393.66 37.44 L394.42 39.28 L396.42 39.44 L394.9 40.74 L395.36 42.68 L393.66 41.64 L391.96 42.68 L392.42 40.74 L390.9 39.44 L392.9 39.28Z" fill="none" stroke="#00ffff" stroke-width="1.15" stroke-linejoin="miter"/>
<path d="M404.32 34.8 L405.08 36.64 L407.08 36.8 L405.56 38.1 L406.02 40.04 L404.32 39 L402.62 40.04 L403.08 38.1 L401.56 36.8 L403.56 36.64Z" fill="none" stroke="#00ffff" stroke-width="1.15" stroke-linejoin="miter"/>
<path d="M414.98 33.1 L415.74 34.95 L417.74 35.1 L416.22 36.4 L416.68 38.34 L414.98 37.3 L413.28 38.34 L413.74 36.4 L412.22 35.1 L414.22 34.95Z" fill="none" stroke="#00ffff" stroke-width="1.15" stroke-linejoin="miter"/>
<path d="M425.64 32.08 L426.4 33.93 L428.4 34.08 L426.88 35.38 L427.34 37.32 L425.64 36.28 L423.94 37.32 L424.4 35.38 L422.88 34.08 L424.88 33.93Z" fill="none" stroke="#00ffff" stroke-width="1.15" stroke-linejoin="miter"/>
<path d="M436.3 31.48 L437.06 33.33 L439.06 33.48 L437.54 34.78 L438 36.73 L436.3 35.68 L434.6 36.73 L435.06 34.78 L433.54 33.48 L435.54 33.33Z" fill="none" stroke="#00ffff" stroke-width="1.15" stroke-linejoin="miter"/>
<path d="M446.96 31.04 L447.72 32.89 L449.72 33.05 L448.2 34.35 L448.66 36.29 L446.96 35.24 L445.26 36.29 L445.72 34.35 L444.2 33.05 L446.2 32.89Z" fill="none" stroke="#00ffff" stroke-width="1.15" stroke-linejoin="miter"/>
<path d="M457.62 30.51 L458.38 32.36 L460.38 32.51 L458.86 33.81 L459.32 35.76 L457.62 34.71 L455.92 35.76 L456.38 33.81 L454.86 32.51 L456.86 32.36Z" fill="none" stroke="#00ffff" stroke-width="1.15" stroke-linejoin="miter"/>
<path d="M54.5 347.5 L55 347.5 L55.5 347.5 L56 347.5 L56.5 347.5 L57 347.5 L57.5 347.51 L58 347.51 L58.5 347.51 L59 347.51 L59.5 347.51 L60 347.51 L60.5 347.51 L61 347.51 L61.5 347.51 L62 347.51 L62.5 347.51 L63 347.51 L63.5 347.52 L64 347.52 L64.5 347.52 L65 347.52 L65.5 347.52 L66 347.52 L66.5 347.52 L67 347.52 L67.5 347.52 L68 347.52 L68.5 347.52 L69 347.52 L69.5 347.53 L70 347.53 L70.5 347.53 L71 347.53 L71.5 347.53 L72 347.53 L72.5 347.53 L73 347.53 L73.5 347.53 L74 347.53 L74.5 347.53 L75 347.53 L75.5 347.53 L76 347.54 L76.5 347.54 L77 347.54 L77.5 347.54 L78 347.54 L78.5 347.54 L79 347.54 L79.5 347.54 L80 347.54 L80.5 347.54 L81 347.54 L81.5 347.54 L82 347.54 L82.5 347.54 L83 347.55 L83.5 347.55 L84 347.55 L84.5 347.55 L85 347.55 L85.5 347.55 L86 347.55 L86.5 347.55 L87 347.55 L87.5 347.55 L88 347.55 L88.5 347.55 L89 347.55 L89.5 347.55 L90 347.55 L90.5 347.56 L91 347.56 L91.5 347.56 L92 347.56 L92.5 347.56 L93 347.56 L93.5 347.56 L94 347.56 L94.5 347.56 L95 347.56 L95.5 347.56 L96 347.56 L96.5 347.56 L97 347.56 L97.5 347.56 L98 347.56 L98.5 347.56 L99 347.57 L99.5 347.57 L100 347.57 L100.5 347.57 L101 347.57 L101.5 347.57 L102 347.57 L102.5 347.57 L103 347.57 L103.5 347.57 L104 347.57 L104.5 347.57 L105 347.57 L105.5 347.57 L106 347.57 L106.5 347.57 L107 347.57 L107.5 347.57 L108 347.57 L108.5 347.57 L109 347.58 L109.5 347.58 L110 347.58 L110.5 347.58 L111 347.58 L111.5 347.58 L112 347.58 L112.5 347.58 L113 347.58 L113.5 347.58 L114 347.58 L114.5 347.58 L115 347.58 L115.5 347.58 L116 347.58 L116.5 347.58 L117 347.58 L117.5 347.58 L118 347.58 L118.5 347.58 L119 347.58 L119.5 347.58 L120 347.58 L120.5 347.59 L121 347.59 L121.5 347.59 L122 347.59 L122.5 347.59 L123 347.59 L123.5 347.59 L124 347.59 L124.5 347.59 L125 347.59 L125.5 347.59 L126 347.59 L126.5 347.59 L127 347.59 L127.5 347.59 L128 347.59 L128.5 347.59 L129 347.59 L129.5 347.59 L130 347.59 L130.5 347.59 L131 347.59 L131.5 347.59 L132 347.59 L132.5 347.59 L133 347.59 L133.5 347.59 L134 347.59 L134.5 347.59 L135 347.59 L135.5 347.59 L136 347.59 L136.5 347.59 L137 347.59 L137.5 347.6 L138 347.6 L138.5 347.6 L139 347.6 L139.5 347.6 L140 347.6 L140.5 347.6 L141 347.6 L141.5 347.6 L142 347.6 L142.5 347.6 L143 347.6 L143.5 347.6 L144 347.6 L144.5 347.6 L145 347.6 L145.5 347.6 L146 347.6 L146.5 347.6 L147 347.6 L147.5 347.6 L148 347.6 L148.5 347.6 L149 347.6 L149.5 347.6 L150 347.6 L150.5 347.6 L151 347.6 L151.5 347.6 L152 347.6 L152.5 347.6 L153 347.6 L153.5 347.6 L154 347.6 L154.5 347.6 L155 347.6 L155.5 347.6 L156 347.6 L156.5 347.6 L157 347.6 L157.5 347.6 L158 347.6 L158.5 347.6 L159 347.6 L159.5 347.6 L160 347.6 L160.5 347.6 L161 347.6 L161.5 347.6 L162 347.6 L162.5 347.6 L163 347.6 L163.5 347.6 L164 347.6 L164.5 347.6 L165 347.6 L165.5 347.6 L166 347.6 L166.5 347.6 L167 347.6 L167.5 347.6 L168 347.6 L168.5 347.6 L169 347.6 L169.5 347.6 L170 347.6 L170.5 347.6 L171 347.6 L171.5 347.6 L172 347.6 L172.5 347.6 L173 347.59 L173.5 347.59 L174 347.57 L174.5 347.56 L175 347.55 L175.5 347.53 L176 347.51 L176.5 347.49 L177 347.46 L177.5 347.44 L178 347.41 L178.5 347.38 L179 347.36 L179.5 347.33 L180 347.3 L180.5 347.27 L181 347.23 L181.5 347.19 L182 347.15 L182.5 347.1 L183 347.05 L183.5 347 L184 346.94 L184.5 346.87 L185 346.81 L185.5 346.74 L186 346.67 L186.5 346.59 L187 346.51 L187.5 346.43 L188 346.35 L188.5 346.27 L189 346.18 L189.5 346.09 L190 346 L190.5 345.9 L191 345.8 L191.5 345.69 L192 345.56 L192.5 345.43 L193 345.3 L193.5 345.16 L194 345.01 L194.5 344.85 L195 344.69 L195.5 344.53 L196 344.36 L196.5 344.18 L197 344 L197.5 343.82 L198 343.64 L198.5 343.45 L199 343.27 L199.5 343.08 L200 342.88 L200.5 342.68 L201 342.46 L201.5 342.23 L202 342 L202.5 341.76 L203 341.51 L203.5 341.26 L204 341" fill="none" stroke="#000" stroke-width="1.35" />
<path d="M216 316.8 L216.36 315.66 L216.73 314.54 L217.09 313.42 L217.45 312.31 L217.81 311.21 L218.18 310.12 L218.54 309.05 L218.9 307.99 L219.26 306.94 L219.63 305.91 L219.99 304.9 L220.35 303.9 L220.71 302.92 L221.08 301.95 L221.44 300.99 L221.8 300.04 L222.16 299.1 L222.53 298.16 L222.89 297.23 L223.25 296.31 L223.61 295.39 L223.98 294.47 L224.34 293.55 L224.7 292.63 L225.06 291.71 L225.43 290.78 L225.79 289.85 L226.15 288.91 L226.51 287.96 L226.88 287.01 L227.24 286.05 L227.6 285.09 L227.96 284.12 L228.33 283.15 L228.69 282.18 L229.05 281.21 L229.41 280.24 L229.78 279.27 L230.14 278.3 L230.5 277.33 L230.86 276.36 L231.23 275.4 L231.59 274.44 L231.95 273.49 L232.31 272.54 L232.68 271.6 L233.04 270.67 L233.4 269.74 L233.76 268.82 L234.13 267.91 L234.49 267 L234.85 266.09 L235.21 265.19 L235.58 264.3 L235.94 263.41 L236.3 262.52 L236.66 261.63 L237.03 260.75 L237.39 259.86 L237.75 258.98 L238.12 258.1 L238.48 257.22 L238.84 256.34 L239.2 255.46 L239.57 254.58 L239.93 253.7 L240.29 252.82 L240.65 251.93 L241.02 251.05 L241.38 250.16 L241.74 249.27 L242.1 248.38 L242.47 247.49 L242.83 246.6 L243.19 245.72 L243.55 244.83 L243.92 243.95 L244.28 243.07 L244.64 242.19 L245 241.31 L245.37 240.44 L245.73 239.57 L246.09 238.7 L246.45 237.84 L246.82 236.99 L247.18 236.13 L247.54 235.29 L247.9 234.45 L248.27 233.62 L248.63 232.79 L248.99 231.97 L249.35 231.16 L249.72 230.35 L250.08 229.54 L250.44 228.75 L250.8 227.95 L251.17 227.16 L251.53 226.37 L251.89 225.59 L252.25 224.81 L252.62 224.03 L252.98 223.26 L253.34 222.49 L253.7 221.72 L254.07 220.96 L254.43 220.19 L254.79 219.44 L255.15 218.68 L255.52 217.93 L255.88 217.17 L256.24 216.43 L256.6 215.68 L256.97 214.93 L257.33 214.19 L257.69 213.45 L258.05 212.71 L258.42 211.97 L258.78 211.23 L259.14 210.5 L259.51 209.76 L259.87 209.03 L260.23 208.3 L260.59 207.56 L260.96 206.83 L261.32 206.1 L261.68 205.37 L262.04 204.64 L262.41 203.91 L262.77 203.18 L263.13 202.45 L263.49 201.72 L263.86 200.99 L264.22 200.26 L264.58 199.54 L264.94 198.82 L265.31 198.11 L265.67 197.39 L266.03 196.68 L266.39 195.98 L266.76 195.27 L267.12 194.57 L267.48 193.86 L267.84 193.16 L268.21 192.46 L268.57 191.75 L268.93 191.05 L269.29 190.34 L269.66 189.64 L270.02 188.93 L270.38 188.22 L270.74 187.5 L271.11 186.78 L271.47 186.06 L271.83 185.34 L272.19 184.61 L272.56 183.88 L272.92 183.14 L273.28 182.41 L273.64 181.67 L274.01 180.93 L274.37 180.18 L274.73 179.44 L275.09 178.69 L275.46 177.94 L275.82 177.19 L276.18 176.44 L276.54 175.69 L276.91 174.94 L277.27 174.19 L277.63 173.44 L277.99 172.68 L278.36 171.93 L278.72 171.18 L279.08 170.43 L279.44 169.68 L279.81 168.93 L280.17 168.18 L280.53 167.43 L280.89 166.69 L281.26 165.95 L281.62 165.2 L281.98 164.46 L282.35 163.73 L282.71 162.99 L283.07 162.25 L283.43 161.51 L283.8 160.78 L284.16 160.04 L284.52 159.3 L284.88 158.56 L285.25 157.82 L285.61 157.08 L285.97 156.33 L286.33 155.59 L286.7 154.84 L287.06 154.09 L287.42 153.33 L287.78 152.57 L288.15 151.81 L288.51 151.05 L288.87 150.28 L289.23 149.5 L289.6 148.73 L289.96 147.95 L290.32 147.18 L290.68 146.41 L291.05 145.63 L291.41 144.85 L291.77 144.07 L292.13 143.28 L292.5 142.49 L292.86 141.69 L293.22 140.89 L293.58 140.09 L293.95 139.27 L294.31 138.45 L294.67 137.62 L295.03 136.78 L295.4 135.93 L295.76 135.08 L296.12 134.21 L296.48 133.33 L296.85 132.43 L297.21 131.53 L297.57 130.61 L297.93 129.69 L298.3 128.75 L298.66 127.81 L299.02 126.86 L299.38 125.9 L299.75 124.93 L300.11 123.97 L300.47 122.99 L300.83 122.01 L301.2 121.03 L301.56 120.05 L301.92 119.07 L302.28 118.08 L302.65 117.1 L303.01 116.11 L303.37 115.11 L303.74 114.11 L304.1 113.1 L304.46 112.09 L304.82 111.07 L305.19 110.05 L305.55 109.03 L305.91 108 L306.27 106.97 L306.64 105.94 L307 104.9 L307.36 103.86 L307.72 102.82 L308.09 101.79 L308.45 100.75 L308.81 99.71 L309.17 98.67 L309.54 97.63 L309.9 96.59 L310.26 95.55 L310.62 94.52 L310.99 93.49 L311.35 92.47 L311.71 91.47 L312.07 90.47 L312.44 89.48 L312.8 88.49 L313.16 87.51 L313.52 86.53 L313.89 85.55 L314.25 84.56 L314.61 83.57 L314.97 82.57 L315.34 81.57 L315.7 80.55 L316.06 79.52 L316.42 78.48 L316.79 77.42 L317.15 76.35 L317.51 75.25 L317.87 74.13 L318.24 72.99 L318.6 71.82 L318.96 70.63 L319.32 69.4 L319.69 68.14 L320.05 66.85 L320.41 65.53 L320.77 64.18 L321.14 62.8 L321.5 61.39 L321.86 59.96 L322.22 58.51 L322.59 57.04 L322.95 55.54 L323.31 54.03 L323.67 52.5 L324.04 50.96 L324.4 49.4" fill="none" stroke="#000" stroke-width="1.7" />
<path d="M326.1 45.2 L326.56 44.55 L327.03 43.92 L327.49 43.31 L327.95 42.73 L328.41 42.17 L328.88 41.65 L329.34 41.16 L329.8 40.7 L330.27 40.26 L330.73 39.84 L331.19 39.43 L331.65 39.04 L332.12 38.67 L332.58 38.32 L333.04 37.99 L333.51 37.68 L333.97 37.4 L334.43 37.13 L334.89 36.87 L335.36 36.63 L335.82 36.39 L336.28 36.17 L336.75 35.95 L337.21 35.75 L337.67 35.54 L338.13 35.35 L338.6 35.16 L339.06 34.98 L339.52 34.79 L339.99 34.62 L340.45 34.44 L340.91 34.27 L341.37 34.11 L341.84 33.95 L342.3 33.8 L342.76 33.66 L343.23 33.52 L343.69 33.38 L344.15 33.26 L344.62 33.14 L345.08 33.02 L345.54 32.9 L346 32.78 L346.47 32.67 L346.93 32.56 L347.39 32.46 L347.86 32.36 L348.32 32.27 L348.78 32.19 L349.24 32.11 L349.71 32.04 L350.17 31.98 L350.63 31.92 L351.1 31.87 L351.56 31.81 L352.02 31.76 L352.48 31.71 L352.95 31.66 L353.41 31.62 L353.87 31.57 L354.34 31.53 L354.8 31.5 L355.26 31.46 L355.72 31.43 L356.19 31.39 L356.65 31.37 L357.11 31.34 L357.58 31.32 L358.04 31.3 L358.5 31.28 L358.96 31.26 L359.43 31.24 L359.89 31.23 L360.35 31.21 L360.82 31.19 L361.28 31.18 L361.74 31.16 L362.2 31.14 L362.67 31.13 L363.13 31.11 L363.59 31.1 L364.06 31.09 L364.52 31.08 L364.98 31.06 L365.44 31.05 L365.91 31.04 L366.37 31.03 L366.83 31.03 L367.3 31.02 L367.76 31.01 L368.22 31.01 L368.68 31 L369.15 31 L369.61 31 L370.07 31 L370.54 31 L371 31 L371.46 31 L371.92 31 L372.39 31 L372.85 31 L373.31 31 L373.78 31 L374.24 31 L374.7 31 L375.16 31 L375.63 31 L376.09 31 L376.55 31 L377.02 31 L377.48 31 L377.94 31 L378.41 31 L378.87 31 L379.33 31 L379.79 31 L380.26 31 L380.72 31 L381.18 31 L381.65 31 L382.11 31 L382.57 31 L383.03 31 L383.5 31 L383.96 31 L384.42 31 L384.89 31 L385.35 31 L385.81 31 L386.27 31 L386.74 31 L387.2 31 L387.66 31 L388.13 31 L388.59 31 L389.05 31 L389.51 31 L389.98 31 L390.44 31 L390.9 31 L391.37 31 L391.83 31 L392.29 31 L392.75 31 L393.22 31 L393.68 31 L394.14 31 L394.61 31 L395.07 31 L395.53 31 L395.99 31 L396.46 31 L396.92 31 L397.38 31 L397.85 31 L398.31 31 L398.77 31 L399.23 31 L399.7 31 L400.16 31 L400.62 31 L401.09 31 L401.55 31 L402.01 31 L402.47 31 L402.94 31 L403.4 31 L403.86 31 L404.33 31 L404.79 31 L405.25 31 L405.71 31 L406.18 31 L406.64 31 L407.1 31 L407.57 31 L408.03 31 L408.49 31 L408.95 31 L409.42 31 L409.88 31 L410.34 31 L410.81 31 L411.27 31 L411.73 31 L412.19 31 L412.66 31 L413.12 31 L413.58 31 L414.05 31 L414.51 31 L414.97 31 L415.44 31 L415.9 31 L416.36 31 L416.82 31 L417.29 31 L417.75 31 L418.21 31 L418.68 31 L419.14 31 L419.6 31 L420.06 31 L420.53 31 L420.99 31 L421.45 31 L421.92 31 L422.38 31 L422.84 31 L423.3 31 L423.77 31 L424.23 31 L424.69 31 L425.16 31 L425.62 31 L426.08 31 L426.54 31 L427.01 31 L427.47 31 L427.93 31 L428.4 31 L428.86 31 L429.32 31 L429.78 31 L430.25 31 L430.71 31 L431.17 31 L431.64 31 L432.1 31 L432.56 31 L433.02 31 L433.49 31 L433.95 31 L434.41 31 L434.88 31 L435.34 31 L435.8 31 L436.26 31 L436.73 31 L437.19 31 L437.65 31 L438.12 31 L438.58 31 L439.04 31 L439.5 31 L439.97 31 L440.43 31 L440.89 31 L441.36 31 L441.82 31 L442.28 31 L442.74 31 L443.21 31 L443.67 31 L444.13 31 L444.6 31 L445.06 31 L445.52 31 L445.98 31 L446.45 31 L446.91 31 L447.37 31 L447.84 31 L448.3 31 L448.76 31 L449.23 31 L449.69 31 L450.15 31 L450.61 31 L451.08 31 L451.54 31 L452 31 L452.47 31 L452.93 31 L453.39 31 L453.85 31 L454.32 31 L454.78 31 L455.24 31 L455.71 31 L456.17 31 L456.63 31 L457.09 31 L457.56 31 L458.02 31 L458.48 31 L458.95 31 L459.41 31 L459.87 31 L460.33 31 L460.8 31 L461.26 31 L461.72 31 L462.19 31 L462.65 31 L463.11 31 L463.57 31 L464.04 31 L464.5 31" fill="none" stroke="#000" stroke-width="1.5" />
<path d="M76.4 341.5 L78.55 345 L76.4 348.5 L74.25 345Z" fill="none" stroke="#000" stroke-width="1.4"/>
<path d="M80.48 346.1 L82.63 349.6 L80.48 353.1 L78.33 349.6Z" fill="none" stroke="#000" stroke-width="1.4"/>
<path d="M84.56 340.3 L86.71 343.8 L84.56 347.3 L82.41 343.8Z" fill="none" stroke="#000" stroke-width="1.4"/>
<path d="M88.64 341.2 L90.79 344.7 L88.64 348.2 L86.49 344.7Z" fill="none" stroke="#000" stroke-width="1.4"/>
<path d="M92.72 344 L94.87 347.5 L92.72 351 L90.57 347.5Z" fill="none" stroke="#000" stroke-width="1.4"/>
<path d="M96.8 343.1 L98.95 346.6 L96.8 350.1 L94.65 346.6Z" fill="none" stroke="#000" stroke-width="1.4"/>
<path d="M100.88 344.8 L103.03 348.3 L100.88 351.8 L98.73 348.3Z" fill="none" stroke="#000" stroke-width="1.4"/>
<path d="M104.96 346.6 L107.11 350.1 L104.96 353.6 L102.81 350.1Z" fill="none" stroke="#000" stroke-width="1.4"/>
<path d="M109.04 343.1 L111.19 346.6 L109.04 350.1 L106.89 346.6Z" fill="none" stroke="#000" stroke-width="1.4"/>
<path d="M113.12 344.7 L115.27 348.2 L113.12 351.7 L110.97 348.2Z" fill="none" stroke="#000" stroke-width="1.4"/>
<path d="M117.2 344.9 L119.35 348.4 L117.2 351.9 L115.05 348.4Z" fill="none" stroke="#000" stroke-width="1.4"/>
<path d="M121.28 345.1 L123.43 348.6 L121.28 352.1 L119.13 348.6Z" fill="none" stroke="#000" stroke-width="1.4"/>
<path d="M125.36 344.5 L127.51 348 L125.36 351.5 L123.21 348Z" fill="none" stroke="#000" stroke-width="1.4"/>
<path d="M129.44 344.2 L131.59 347.7 L129.44 351.2 L127.29 347.7Z" fill="none" stroke="#000" stroke-width="1.4"/>
<path d="M133.52 343.9 L135.67 347.4 L133.52 350.9 L131.37 347.4Z" fill="none" stroke="#000" stroke-width="1.4"/>
<path d="M137.6 344.3 L139.75 347.8 L137.6 351.3 L135.45 347.8Z" fill="none" stroke="#000" stroke-width="1.4"/>
<path d="M141.68 343.8 L143.83 347.3 L141.68 350.8 L139.53 347.3Z" fill="none" stroke="#000" stroke-width="1.4"/>
<path d="M145.76 344.1 L147.91 347.6 L145.76 351.1 L143.61 347.6Z" fill="none" stroke="#000" stroke-width="1.4"/>
<path d="M149.84 343.7 L151.99 347.2 L149.84 350.7 L147.69 347.2Z" fill="none" stroke="#000" stroke-width="1.4"/>
<path d="M153.92 343.7 L156.07 347.2 L153.92 350.7 L151.77 347.2Z" fill="none" stroke="#000" stroke-width="1.4"/>
<path d="M158 343.4 L160.15 346.9 L158 350.4 L155.85 346.9Z" fill="none" stroke="#000" stroke-width="1.4"/>
<path d="M162.08 343.2 L164.23 346.7 L162.08 350.2 L159.93 346.7Z" fill="none" stroke="#000" stroke-width="1.4"/>
<path d="M166.16 343 L168.31 346.5 L166.16 350 L164.01 346.5Z" fill="none" stroke="#000" stroke-width="1.4"/>
<path d="M170.24 342.66 L172.39 346.16 L170.24 349.66 L168.09 346.16Z" fill="none" stroke="#000" stroke-width="1.4"/>
<path d="M174.32 342.08 L176.47 345.58 L174.32 349.08 L172.17 345.58Z" fill="none" stroke="#000" stroke-width="1.4"/>
<path d="M178.4 341.2 L180.55 344.7 L178.4 348.2 L176.25 344.7Z" fill="none" stroke="#000" stroke-width="1.4"/>
<path d="M182.48 339.91 L184.63 343.41 L182.48 346.91 L180.33 343.41Z" fill="none" stroke="#000" stroke-width="1.4"/>
<path d="M186.56 338.61 L188.71 342.11 L186.56 345.61 L184.41 342.11Z" fill="none" stroke="#000" stroke-width="1.4"/>
<path d="M190.64 336.83 L192.79 340.33 L190.64 343.83 L188.49 340.33Z" fill="none" stroke="#000" stroke-width="1.4"/>
<path d="M194.72 334.28 L196.87 337.78 L194.72 341.28 L192.57 337.78Z" fill="none" stroke="#000" stroke-width="1.4"/>
<path d="M198.8 330.59 L200.95 334.09 L198.8 337.59 L196.65 334.09Z" fill="none" stroke="#000" stroke-width="1.4"/>
<path d="M202.88 325.56 L205.03 329.06 L202.88 332.56 L200.73 329.06Z" fill="none" stroke="#000" stroke-width="1.4"/>
<path d="M206.96 319.06 L209.11 322.56 L206.96 326.06 L204.81 322.56Z" fill="none" stroke="#000" stroke-width="1.4"/>
<path d="M211.04 311.52 L213.19 315.02 L211.04 318.52 L208.89 315.02Z" fill="none" stroke="#000" stroke-width="1.4"/>
<path d="M215.12 302.36 L217.27 305.86 L215.12 309.36 L212.97 305.86Z" fill="none" stroke="#000" stroke-width="1.4"/>
<path d="M219.2 293.53 L221.35 297.03 L219.2 300.53 L217.05 297.03Z" fill="none" stroke="#000" stroke-width="1.4"/>
<path d="M223.28 284.64 L225.43 288.14 L223.28 291.64 L221.13 288.14Z" fill="none" stroke="#000" stroke-width="1.4"/>
<path d="M227.36 275.44 L229.51 278.94 L227.36 282.44 L225.21 278.94Z" fill="none" stroke="#000" stroke-width="1.4"/>
<path d="M231.44 266.35 L233.59 269.85 L231.44 273.35 L229.29 269.85Z" fill="none" stroke="#000" stroke-width="1.4"/>
<path d="M235.52 257.15 L237.67 260.65 L235.52 264.15 L233.37 260.65Z" fill="none" stroke="#000" stroke-width="1.4"/>
<path d="M239.6 249.57 L241.75 253.07 L239.6 256.57 L237.45 253.07Z" fill="none" stroke="#000" stroke-width="1.4"/>
<path d="M243.68 242.79 L245.83 246.29 L243.68 249.79 L241.53 246.29Z" fill="none" stroke="#000" stroke-width="1.4"/>
<path d="M247.76 234.62 L249.91 238.12 L247.76 241.62 L245.61 238.12Z" fill="none" stroke="#000" stroke-width="1.4"/>
<path d="M251.84 225.45 L253.99 228.95 L251.84 232.45 L249.69 228.95Z" fill="none" stroke="#000" stroke-width="1.4"/>
<path d="M255.92 216.4 L258.07 219.9 L255.92 223.4 L253.77 219.9Z" fill="none" stroke="#000" stroke-width="1.4"/>
<path d="M260 207.52 L262.15 211.02 L260 214.52 L257.85 211.02Z" fill="none" stroke="#000" stroke-width="1.4"/>
<path d="M264.08 198.54 L266.23 202.04 L264.08 205.54 L261.93 202.04Z" fill="none" stroke="#000" stroke-width="1.4"/>
<path d="M268.16 189.53 L270.31 193.03 L268.16 196.53 L266.01 193.03Z" fill="none" stroke="#000" stroke-width="1.4"/>
<path d="M272.24 181.64 L274.39 185.14 L272.24 188.64 L270.09 185.14Z" fill="none" stroke="#000" stroke-width="1.4"/>
<path d="M276.32 173.76 L278.47 177.26 L276.32 180.76 L274.17 177.26Z" fill="none" stroke="#000" stroke-width="1.4"/>
<path d="M280.4 166.43 L282.55 169.93 L280.4 173.43 L278.25 169.93Z" fill="none" stroke="#000" stroke-width="1.4"/>
<path d="M284.48 158.18 L286.63 161.68 L284.48 165.18 L282.33 161.68Z" fill="none" stroke="#000" stroke-width="1.4"/>
<path d="M288.56 148.39 L290.71 151.89 L288.56 155.39 L286.41 151.89Z" fill="none" stroke="#000" stroke-width="1.4"/>
<path d="M292.64 138.67 L294.79 142.17 L292.64 145.67 L290.49 142.17Z" fill="none" stroke="#000" stroke-width="1.4"/>
<path d="M296.72 130.2 L298.87 133.7 L296.72 137.2 L294.57 133.7Z" fill="none" stroke="#000" stroke-width="1.4"/>
<path d="M300.8 120.73 L302.95 124.23 L300.8 127.73 L298.65 124.23Z" fill="none" stroke="#000" stroke-width="1.4"/>
<path d="M304.88 110.87 L307.03 114.37 L304.88 117.87 L302.73 114.37Z" fill="none" stroke="#000" stroke-width="1.4"/>
<path d="M308.96 100.05 L311.11 103.55 L308.96 107.05 L306.81 103.55Z" fill="none" stroke="#000" stroke-width="1.4"/>
<path d="M313.04 89.36 L315.19 92.86 L313.04 96.36 L310.89 92.86Z" fill="none" stroke="#000" stroke-width="1.4"/>
<path d="M317.12 79.17 L319.27 82.67 L317.12 86.17 L314.97 82.67Z" fill="none" stroke="#000" stroke-width="1.4"/>
<path d="M321.2 69.12 L323.35 72.62 L321.2 76.12 L319.05 72.62Z" fill="none" stroke="#000" stroke-width="1.4"/>
<path d="M325.28 60.88 L327.43 64.38 L325.28 67.88 L323.13 64.38Z" fill="none" stroke="#000" stroke-width="1.4"/>
<path d="M329.36 50.81 L331.51 54.31 L329.36 57.81 L327.21 54.31Z" fill="none" stroke="#000" stroke-width="1.4"/>
<path d="M333.44 44.51 L335.59 48.01 L333.44 51.51 L331.29 48.01Z" fill="none" stroke="#000" stroke-width="1.4"/>
<path d="M337.52 38.76 L339.67 42.26 L337.52 45.76 L335.37 42.26Z" fill="none" stroke="#000" stroke-width="1.4"/>
<path d="M341.6 34.37 L343.75 37.87 L341.6 41.37 L339.45 37.87Z" fill="none" stroke="#000" stroke-width="1.4"/>
<path d="M345.68 31.87 L347.83 35.37 L345.68 38.87 L343.53 35.37Z" fill="none" stroke="#000" stroke-width="1.4"/>
<path d="M349.76 30.36 L351.91 33.86 L349.76 37.36 L347.61 33.86Z" fill="none" stroke="#000" stroke-width="1.4"/>
<path d="M353.84 29.27 L355.99 32.77 L353.84 36.27 L351.69 32.77Z" fill="none" stroke="#000" stroke-width="1.4"/>
<path d="M357.92 28.49 L360.07 31.99 L357.92 35.49 L355.77 31.99Z" fill="none" stroke="#000" stroke-width="1.4"/>
<path d="M362 27.98 L364.15 31.48 L362 34.98 L359.85 31.48Z" fill="none" stroke="#000" stroke-width="1.4"/>
<path d="M366.08 27.64 L368.23 31.14 L366.08 34.64 L363.93 31.14Z" fill="none" stroke="#000" stroke-width="1.4"/>
<path d="M370.16 27.49 L372.31 30.99 L370.16 34.49 L368.01 30.99Z" fill="none" stroke="#000" stroke-width="1.4"/>
<path d="M374.24 27.47 L376.39 30.97 L374.24 34.47 L372.09 30.97Z" fill="none" stroke="#000" stroke-width="1.4"/>
<path d="M378.32 27.45 L380.47 30.95 L378.32 34.45 L376.17 30.95Z" fill="none" stroke="#000" stroke-width="1.4"/>
<path d="M382.4 27.43 L384.55 30.93 L382.4 34.43 L380.25 30.93Z" fill="none" stroke="#000" stroke-width="1.4"/>
<path d="M386.48 27.42 L388.63 30.92 L386.48 34.42 L384.33 30.92Z" fill="none" stroke="#000" stroke-width="1.4"/>
<path d="M390.56 27.4 L392.71 30.9 L390.56 34.4 L388.41 30.9Z" fill="none" stroke="#000" stroke-width="1.4"/>
<path d="M394.64 27.39 L396.79 30.89 L394.64 34.39 L392.49 30.89Z" fill="none" stroke="#000" stroke-width="1.4"/>
<path d="M398.72 27.38 L400.87 30.88 L398.72 34.38 L396.57 30.88Z" fill="none" stroke="#000" stroke-width="1.4"/>
<path d="M402.8 27.36 L404.95 30.86 L402.8 34.36 L400.65 30.86Z" fill="none" stroke="#000" stroke-width="1.4"/>
<path d="M406.88 27.35 L409.03 30.85 L406.88 34.35 L404.73 30.85Z" fill="none" stroke="#000" stroke-width="1.4"/>
<path d="M410.96 27.34 L413.11 30.84 L410.96 34.34 L408.81 30.84Z" fill="none" stroke="#000" stroke-width="1.4"/>
<path d="M415.04 27.34 L417.19 30.84 L415.04 34.34 L412.89 30.84Z" fill="none" stroke="#000" stroke-width="1.4"/>
<path d="M419.12 27.33 L421.27 30.83 L419.12 34.33 L416.97 30.83Z" fill="none" stroke="#000" stroke-width="1.4"/>
<path d="M423.2 27.32 L425.35 30.82 L423.2 34.32 L421.05 30.82Z" fill="none" stroke="#000" stroke-width="1.4"/>
<path d="M427.28 27.32 L429.43 30.82 L427.28 34.32 L425.13 30.82Z" fill="none" stroke="#000" stroke-width="1.4"/>
<path d="M431.36 27.31 L433.51 30.81 L431.36 34.31 L429.21 30.81Z" fill="none" stroke="#000" stroke-width="1.4"/>
<path d="M435.44 27.31 L437.59 30.81 L435.44 34.31 L433.29 30.81Z" fill="none" stroke="#000" stroke-width="1.4"/>
<path d="M439.52 27.31 L441.67 30.81 L439.52 34.31 L437.37 30.81Z" fill="none" stroke="#000" stroke-width="1.4"/>
<path d="M443.6 27.3 L445.75 30.8 L443.6 34.3 L441.45 30.8Z" fill="none" stroke="#000" stroke-width="1.4"/>
<path d="M447.68 27.3 L449.83 30.8 L447.68 34.3 L445.53 30.8Z" fill="none" stroke="#000" stroke-width="1.4"/>
<path d="M451.76 27.3 L453.91 30.8 L451.76 34.3 L449.61 30.8Z" fill="none" stroke="#000" stroke-width="1.4"/>
<path d="M455.84 27.3 L457.99 30.8 L455.84 34.3 L453.69 30.8Z" fill="none" stroke="#000" stroke-width="1.4"/>
<path d="M459.92 27.3 L462.07 30.8 L459.92 34.3 L457.77 30.8Z" fill="none" stroke="#000" stroke-width="1.4"/>
</g>
<path d="M203.9 216.7 V348.9 M199 338.7 L203.9 348.9 L211.2 336.7" fill="none" stroke="#000" stroke-width="1.5"/>
<path d="M329.6 244 V30.2 M322.7 42.7 L329.6 30.2 L336.5 42.7" fill="none" stroke="#000" stroke-width="1.5"/>
<rect x="54.5" y="7.5" width="410" height="367" fill="none" stroke="#000" stroke-width="3"/>
<path d="M75 373 V367 M95.5 373 V367 M116 373 V367 M136.5 373 V367 M157 373 V367 M177.5 373 V367 M198 373 V367 M218.5 373 V367 M239 373 V367 M259.5 373 V367 M280 373 V367 M300.5 373 V367 M321 373 V367 M341.5 373 V367 M362 373 V367 M382.5 373 V367 M403 373 V367 M423.5 373 V367 M444 373 V367 M56 348.29 H62 M56 322.07 H62 M56 295.86 H62 M56 269.64 H62 M56 243.43 H62 M56 217.22 H62 M56 191 H62 M56 164.79 H62 M56 138.57 H62 M56 112.36 H62 M56 86.15 H62 M56 59.93 H62 M56 33.72 H62" stroke="#000" stroke-width="1.4" fill="none"/>
<rect x="352.6" y="236.4" width="6.5" height="6.5" fill="#00ff00"/>
<path d="M355.7 251.1 L351.1 259.6 L360.3 259.6Z" fill="none" stroke="#ff0000" stroke-width="1.5"/>
<path d="M355.8 266.2 L352 274.6 L359.6 274.6Z" fill="#0000ff"/>
<path d="M355.8 280.4 L357.15 283.74 L360.75 283.99 L357.99 286.31 L358.86 289.81 L355.8 287.9 L352.74 289.81 L353.61 286.31 L350.85 283.99 L354.45 283.74Z" fill="none" stroke="#00ffff" stroke-width="1.5" stroke-linejoin="miter"/>
<path d="M355.9 294.1 L360.5 301.3 L355.9 308.5 L351.3 301.3Z" fill="none" stroke="#000" stroke-width="1.5"/>
</svg>
<div class="t" style="left:85.6px;top:109px;font-size:20px;color:#000;">gapped</div>
<div class="t" style="left:219.5px;top:109px;font-size:20px;color:#000;">incom.</div>
<div class="t" style="left:373.2px;top:109px;font-size:20px;color:#000;">polarized</div>
<div class="t" style="left:200.8px;top:195.1px;font-size:20px;color:#000;">H</div>
<div class="t" style="left:214.9px;top:206.06px;font-size:13.3px;color:#000;letter-spacing:0.5px;">c1</div>
<div class="t" style="left:320px;top:244.8px;font-size:20px;color:#000;">H</div>
<div class="t" style="left:334.2px;top:255.76px;font-size:13.3px;color:#000;letter-spacing:0.5px;">c2</div>
<div class="t" style="left:392.8px;top:232.28px;font-size:15.4px;color:#00ff00;">T=12.3K</div>
<div class="t" style="left:392.8px;top:247.48px;font-size:15.4px;color:#ff0000;">T=4.04K</div>
<div class="t" style="left:392.8px;top:262.88px;font-size:15.4px;color:#0000ff;">T=2.44K</div>
<div class="t" style="left:392.8px;top:278.08px;font-size:15.4px;color:#00ffff;">T=1.6K</div>
<div class="t" style="left:392.8px;top:293.38px;font-size:15.4px;color:#000;">T=0.42K</div>
<div class="t" style="left:54.9px;top:381.12px;font-size:17.6px;color:#000;transform:translateX(-50%) scaleY(1.02);transform-origin:50% 80%;">0</div>
<div class="t" style="left:157.4px;top:381.12px;font-size:17.6px;color:#000;transform:translateX(-50%) scaleY(1.02);transform-origin:50% 80%;">5</div>
<div class="t" style="left:259.9px;top:381.12px;font-size:17.6px;color:#000;transform:translateX(-50%) scaleY(1.02);transform-origin:50% 80%;">10</div>
<div class="t" style="left:362.4px;top:381.12px;font-size:17.6px;color:#000;transform:translateX(-50%) scaleY(1.02);transform-origin:50% 80%;">15</div>
<div class="t" style="left:460.2px;top:381.12px;font-size:17.6px;color:#000;transform:translateX(-50%) scaleY(1.02);transform-origin:50% 80%;">20</div>
<div class="t" style="left:46.6px;top:339.81px;font-size:17.6px;color:#000;transform:translateX(-100%) scaleY(1.02);transform-origin:50% 80%;">0</div>
<div class="t" style="left:46.6px;top:208.74px;font-size:17.6px;color:#000;transform:translateX(-100%) scaleY(1.02);transform-origin:50% 80%;">5</div>
<div class="t" style="left:46.6px;top:77.67px;font-size:17.6px;color:#000;transform:translateX(-100%) scaleY(1.02);transform-origin:50% 80%;">10</div>
<div class="t" style="left:259.4px;top:399.7px;font-size:23.5px;color:#000;transform:translateX(-50%);transform-origin:50% 80%;">H (Teslas)</div>
<div class="t" style="left:12px;top:190.6px;font-size:23.3px;transform:translate(-50%,-50%) rotate(-90deg) scaleY(1.06);transform-origin:center;">Magnetization (a.u)</div>
</div></body></html>
